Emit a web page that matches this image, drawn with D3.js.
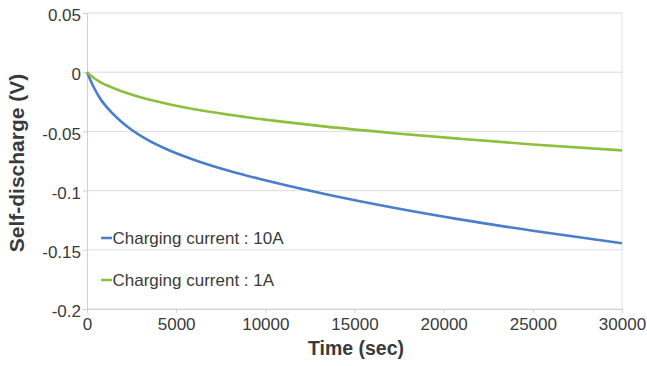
<!DOCTYPE html>
<html>
<head>
<meta charset="utf-8">
<script src="https://cdn.jsdelivr.net/npm/d3@7"></script>
<style>
  body { margin: 0; background: #fff; }
  text { font-family: "Liberation Sans", Arial, sans-serif; fill: #3a3a3a; }
</style>
</head>
<body>
<script>
var times = [0, 350, 700, 1500, 2400, 3300, 4600, 6100, 8000, 9700, 10800, 13400, 17200, 20900, 25000, 30000];
var current10A = [0, -0.0119, -0.0214, -0.0358, -0.0475, -0.0563, -0.0659, -0.0745, -0.0834, -0.0902, -0.0943, -0.1031, -0.1145, -0.1243, -0.1339, -0.1444];
var current1A = [0, -0.0045, -0.008, -0.0135, -0.0185, -0.0225, -0.027, -0.0315, -0.036, -0.0395, -0.0415, -0.046, -0.0515, -0.0562, -0.061, -0.066];
var xTicks = [0, 5000, 10000, 15000, 20000, 25000, 30000];
var yTicks = [0.05, 0, -0.05, -0.1, -0.15, -0.2];
var seriesNames = ['Charging current : 10A', 'Charging current : 1A'];
var colors = ['#4a7dcc', '#8cbf3c'];

var w = 647, h = 366;
var plotLeft = 87, plotRight = 622, plotTop = 13, plotBottom = 309;

var svg = d3.select('body').append('svg')
  .attr('width', w)
  .attr('height', h);

var xScale = d3.scaleLinear().domain([0, 30000]).range([plotLeft, plotRight]);
var yScale = d3.scaleLinear().domain([-0.2, 0.05]).range([plotBottom, plotTop]);

// horizontal grid
svg.selectAll('.grid')
  .data(yTicks)
  .enter()
  .append('line')
  .attr('x1', plotLeft)
  .attr('x2', plotRight)
  .attr('y1', function(d){ return yScale(d); })
  .attr('y2', function(d){ return yScale(d); })
  .attr('stroke', '#dcdcdc')
  .attr('stroke-width', 1);

svg.append('line')
  .attr('x1', plotRight).attr('x2', plotRight)
  .attr('y1', plotTop).attr('y2', plotBottom)
  .attr('stroke', '#e2e2e2');

var xAxis = d3.axisBottom(xScale).tickValues(xTicks).tickSize(4).tickPadding(8)
  .tickFormat(d3.format('d'));
var yAxis = d3.axisLeft(yScale).tickValues(yTicks).tickSize(4).tickPadding(2)
  .tickFormat(function(d){ return d === 0 ? '0' : String(+d.toFixed(2)); });

var gx = svg.append('g')
  .attr('transform', 'translate(0,' + plotBottom + ')')
  .call(xAxis);
var gy = svg.append('g')
  .attr('transform', 'translate(' + plotLeft + ',0)')
  .call(yAxis);

[gx, gy].forEach(function(g){
  g.select('.domain').attr('stroke', '#d0d0d0');
  g.selectAll('.tick line').attr('stroke', '#d0d0d0');
  g.selectAll('.tick text')
    .attr('fill', '#3a3a3a')
    .attr('font-size', '17px')
    .attr('font-family', '"Liberation Sans", Arial, sans-serif');
});
gx.selectAll('.tick text').attr('dy', '0.5em');
gy.selectAll('.tick text').attr('dy', '0.45em');

// curves
var line = d3.line()
  .x(function(d){ return xScale(d[0]); })
  .y(function(d){ return yScale(d[1]); })
  .curve(d3.curveMonotoneX);

[current10A, current1A].forEach(function(vals, i){
  svg.append('path')
    .datum(times.map(function(t, j){ return [t, vals[j]]; }))
    .attr('d', line)
    .attr('fill', 'none')
    .attr('stroke', colors[i])
    .attr('stroke-width', 2.6);
});

// legend
var legendY = [238, 280];
seriesNames.forEach(function(name, i){
  svg.append('line')
    .attr('x1', 101).attr('x2', 112)
    .attr('y1', legendY[i]).attr('y2', legendY[i])
    .attr('stroke', colors[i])
    .attr('stroke-width', 2.5);
  svg.append('text')
    .attr('x', 112.5)
    .attr('y', legendY[i] + 6)
    .attr('font-size', '17px')
    .text(name);
});

// axis titles
svg.append('text')
  .attr('x', 356)
  .attr('y', 355)
  .attr('text-anchor', 'middle')
  .attr('font-size', '19.5px')
  .attr('font-weight', 'bold')
  .attr('fill', '#262626')
  .text('Time (sec)');

svg.append('text')
  .attr('transform', 'translate(24,163) rotate(-90)')
  .attr('text-anchor', 'middle')
  .attr('font-size', '21px')
  .attr('font-weight', 'bold')
  .attr('fill', '#262626')
  .text('Self-discharge (V)');
</script>
</body>
</html>
